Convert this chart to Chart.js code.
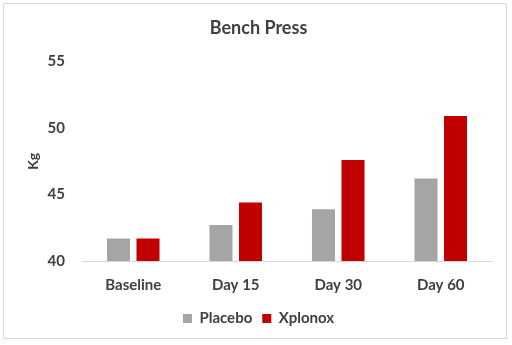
<!DOCTYPE html>
<html>
<head>
<meta charset="utf-8">
<script src="https://cdn.jsdelivr.net/npm/chart.js@4"></script>
<style>
html,body{margin:0;padding:0;background:#fff;}
#wrap{position:relative;width:512px;height:345px;}
</style>
</head>
<body>
<div id="wrap"><canvas id="c" width="512" height="345"></canvas></div>
<script>
const categories = ["Baseline", "Day 15", "Day 30", "Day 60"];
const placebo = [41.7, 42.7, 43.9, 46.2];
const xplonox = [41.7, 44.4, 47.6, 50.9];
const yTicks = [40, 45, 50, 55];

const FONT = "Lato, 'Open Sans', sans-serif";
const TXT = '#404040';

const borderPlugin = {
  id: 'outerBorder',
  beforeDraw(chart) {
    const ctx = chart.ctx;
    ctx.save();
    ctx.fillStyle = '#fff';
    ctx.fillRect(0, 0, chart.width, chart.height);
    ctx.strokeStyle = '#D9D9D9';
    ctx.lineWidth = 1;
    ctx.strokeRect(3.5, 3.5, 503, 335);
    ctx.restore();
  }
};

new Chart(document.getElementById('c'), {
  type: 'bar',
  data: {
    labels: categories,
    datasets: [
      { label: 'Placebo', data: placebo, backgroundColor: '#A5A5A5', categoryPercentage: 0.576, barPercentage: 0.78 },
      { label: 'Xplonox', data: xplonox, backgroundColor: '#C00000', categoryPercentage: 0.576, barPercentage: 0.78 }
    ]
  },
  options: {
    responsive: false,
    animation: false,
    layout: { padding: { left: 25, right: 20, top: 10, bottom: 9 } },
    plugins: {
      title: {
        display: true, text: 'Bench Press', color: TXT,
        font: { family: FONT, size: 18, weight: 'bold' },
        padding: { top: 7, bottom: 23 }
      },
      legend: {
        position: 'bottom',
        labels: {
          color: TXT, boxWidth: 9, boxHeight: 9, padding: 10,
          font: { family: FONT, size: 15, weight: 'bold' }
        }
      },
      tooltip: { enabled: false }
    },
    scales: {
      x: {
        grid: { display: false },
        border: { color: '#D9D9D9' },
        ticks: { color: TXT, padding: 7, font: { family: FONT, size: 15, weight: 'bold' } }
      },
      y: {
        min: 40, max: 55,
        afterBuildTicks(scale) { scale.ticks = yTicks.map(v => ({ value: v })); },
        afterFit(scale) { scale.width = 57; },
        grid: { display: false },
        border: { display: false },
        ticks: { color: TXT, padding: 9, font: { family: FONT, size: 15, weight: 'bold' } },
        title: { display: true, text: 'Kg', color: TXT, padding: { top: 0, bottom: 0 }, font: { family: FONT, size: 14, weight: 'bold' } }
      }
    }
  },
  plugins: [borderPlugin]
});
</script>
</body>
</html>
